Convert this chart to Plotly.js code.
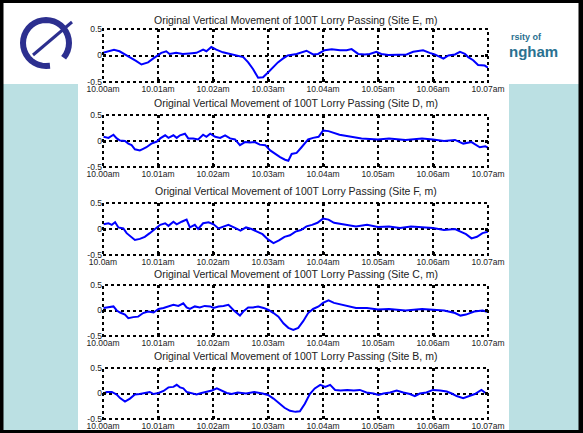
<!DOCTYPE html>
<html>
<head>
<meta charset="utf-8">
<script src="https://cdn.plot.ly/plotly-3.0.1.min.js"></script>
<style>
  html, body { margin: 0; padding: 0; background: #ffffff; }
  #chart { width: 583px; height: 433px; }
</style>
</head>
<body>
<div id="chart"></div>
<script>
// Vertical movement (m) recorded at five sites while a 100T lorry passes, 10.00am-10.07am
const tickVals = [0, 1, 2, 3, 4, 5, 6, 7];
const tickLabels = ["10.00am", "10.01am", "10.02am", "10.03am", "10.04am", "10.05am", "10.06am", "10.07am"];
const tickLabelsF = ["10.0am", "10.01am", "10.02am", "10.03am", "10.04am", "10.05am", "10.06am", "10.07am"];
const yTickVals = [-0.5, 0, 0.5];
const yTickLabels = ["-0.5", "0", "0.5"];

const sites = ["E", "D", "F", "C", "B"];

// time in minutes after 10.00am
const tE = [0,0.1,0.2,0.3,0.4,0.5,0.6,0.7,0.82,0.91,1.0,1.06,1.15,1.21,1.33,1.45,1.57,1.7,1.82,1.88,1.97,2.06,2.18,2.3,2.42,2.55,2.64,2.73,2.82,2.91,3.0,3.09,3.18,3.27,3.36,3.52,3.58,3.7,3.82,3.91,4.03,4.16,4.31,4.43,4.52,4.64,4.76,4.85,4.97,5.06,5.19,5.34,5.52,5.64,5.82,5.94,6.03,6.19,6.28,6.4,6.49,6.58,6.64,6.73,6.82,6.94,7.0];
const vE = [0.05,0.08,0.11,0.08,0.02,-0.03,-0.1,-0.17,-0.13,-0.06,0.01,0.05,0.08,0.03,0.05,0.03,0.04,0.05,0.11,0.08,0.16,0.11,0.06,0.03,0.01,-0.03,-0.13,-0.26,-0.42,-0.41,-0.32,-0.22,-0.13,-0.06,0.0,0.03,0.05,0.09,0.02,0.03,0.10,0.12,0.10,0.10,0.12,0.03,0.02,0.03,0.07,0.03,0.01,0.01,0.02,0.07,0.10,0.05,0.02,-0.06,0.0,0.02,0.07,0.03,-0.03,-0.09,-0.18,-0.19,-0.23];

const tD = [0.01,0.10,0.19,0.25,0.31,0.40,0.46,0.52,0.58,0.67,0.73,0.79,0.88,0.98,1.04,1.13,1.19,1.28,1.34,1.40,1.49,1.55,1.64,1.73,1.82,1.88,1.95,2.04,2.13,2.22,2.31,2.40,2.49,2.58,2.67,2.76,2.85,2.95,3.04,3.13,3.22,3.31,3.37,3.43,3.52,3.61,3.67,3.73,3.82,3.92,4.0,4.1,4.3,4.5,4.7,5.0,5.2,5.5,5.8,6.0,6.2,6.4,6.55,6.7,6.85,6.95,7.0];
const vD = [0.08,0.06,0.12,0.05,0.01,0.0,-0.05,-0.08,-0.16,-0.18,-0.15,-0.12,-0.05,-0.01,0.05,0.11,0.06,0.11,0.06,0.11,0.14,0.05,0.05,0.03,0.12,0.08,0.14,0.08,0.06,0.11,0.05,0.03,-0.08,-0.02,-0.03,-0.02,-0.07,-0.08,-0.18,-0.25,-0.31,-0.36,-0.38,-0.25,-0.23,-0.12,-0.05,0.03,0.06,0.08,0.2,0.19,0.12,0.08,0.05,0.03,0.05,0.02,0.05,0.03,0.0,0.02,-0.05,-0.02,-0.12,-0.1,-0.13];

const tF = [0.01,0.10,0.16,0.22,0.28,0.37,0.43,0.52,0.58,0.67,0.76,0.85,0.95,1.04,1.13,1.19,1.28,1.34,1.43,1.52,1.58,1.67,1.73,1.82,1.92,2.01,2.10,2.19,2.28,2.4,2.5,2.6,2.7,2.8,2.9,3.0,3.1,3.2,3.3,3.4,3.5,3.6,3.7,3.8,3.9,4.0,4.1,4.2,4.4,4.6,4.8,5.0,5.2,5.4,5.6,5.8,6.0,6.2,6.4,6.5,6.6,6.7,6.8,6.9,7.0];
const vF = [0.09,0.11,0.08,0.13,0.03,0.01,-0.08,-0.15,-0.21,-0.19,-0.15,-0.08,0.01,0.08,0.11,0.06,0.14,0.09,0.14,0.18,0.03,0.08,0.0,0.11,0.13,0.09,0.01,0.04,0.08,0.02,-0.03,0.03,0.0,-0.05,-0.1,-0.2,-0.27,-0.22,-0.15,-0.12,-0.05,-0.02,0.05,0.08,0.12,0.2,0.18,0.12,0.08,0.05,0.08,0.04,0.05,0.02,0.05,0.03,0.02,-0.02,0.0,-0.05,-0.1,-0.18,-0.15,-0.08,-0.05];

const tC = [0.01,0.1,0.19,0.25,0.31,0.40,0.46,0.55,0.64,0.73,0.82,0.92,1.01,1.10,1.19,1.28,1.37,1.46,1.52,1.58,1.67,1.76,1.85,1.95,2.01,2.10,2.19,2.28,2.37,2.49,2.55,2.64,2.73,2.82,2.92,3.01,3.10,3.19,3.28,3.37,3.46,3.55,3.64,3.73,3.82,3.92,4.0,4.1,4.2,4.4,4.6,4.8,5.0,5.2,5.5,5.8,6.0,6.2,6.4,6.5,6.6,6.75,6.9,7.0];
const vC = [0.05,0.06,0.08,0.0,-0.04,-0.08,-0.15,-0.13,-0.12,-0.05,-0.02,-0.04,0.03,0.05,0.08,0.11,0.09,0.14,0.06,0.03,0.08,0.06,0.09,0.08,0.05,0.08,0.09,0.11,0.01,-0.1,-0.02,0.06,0.06,0.08,0.05,0.01,-0.05,-0.12,-0.25,-0.34,-0.38,-0.34,-0.21,-0.05,0.03,0.08,0.15,0.2,0.15,0.1,0.05,0.05,0.02,0.03,0.0,0.03,0.02,0.0,-0.05,-0.1,-0.08,-0.02,0.0,-0.03];

const tB = [0.01,0.07,0.16,0.25,0.31,0.40,0.49,0.58,0.67,0.76,0.85,0.92,1.01,1.10,1.19,1.28,1.34,1.40,1.46,1.52,1.61,1.70,1.79,1.88,1.98,2.07,2.16,2.25,2.34,2.45,2.6,2.75,2.9,3.0,3.1,3.2,3.3,3.4,3.5,3.58,3.67,3.76,3.85,3.95,4.04,4.13,4.22,4.32,4.44,4.56,4.67,4.79,4.92,5.01,5.1,5.22,5.34,5.46,5.58,5.67,5.76,5.88,6.0,6.13,6.25,6.34,6.43,6.55,6.67,6.76,6.88,6.97];
const vB = [0.0,0.03,0.03,-0.02,-0.09,-0.16,-0.1,-0.02,-0.01,0.01,0.03,-0.01,0.01,0.05,0.12,0.13,0.17,0.12,0.10,0.03,0.01,-0.02,0.01,0.03,0.06,0.10,0.06,0.01,-0.01,0.02,0.0,0.03,0.0,-0.03,-0.1,-0.2,-0.28,-0.34,-0.36,-0.35,-0.2,-0.01,0.1,0.17,0.13,0.17,0.07,0.06,0.07,0.06,0.07,0.02,0.0,-0.03,0.0,0.02,0.06,0.02,-0.01,-0.05,0.0,0.02,0.07,0.06,0.04,0.0,-0.05,-0.09,-0.05,-0.01,0.07,0.0];

const series = [[tE, vE], [tD, vD], [tF, vF], [tC, vC], [tB, vB]];

// page geometry in pixels
const W = 583, H = 433;
const plotLeft = 103, plotRight = 488;
const rowTop = [29, 115, 203, 285, 368];
const rowBottom = [82, 167, 255, 336, 419];
const titleY = [20, 103, 191, 274, 356];

const fx = x => x / W;
const fy = y => 1 - y / H;

const FONT = "Liberation Sans, Arial, Helvetica, sans-serif";
const traces = [];
const layout = {
  width: W, height: H,
  margin: {l: 0, r: 0, t: 0, b: 0},
  paper_bgcolor: "#ffffff",
  plot_bgcolor: "rgba(0,0,0,0)",
  showlegend: false,
  font: {family: FONT, color: "#222222"},
  shapes: [],
  annotations: []
};

// slide background: light blue band, white chart panel, black frame
layout.shapes.push(
  {type: "rect", xref: "paper", yref: "paper", layer: "below",
   x0: fx(3), x1: fx(579), y0: fy(84), y1: fy(431), fillcolor: "#bbe0e3", line: {width: 0}},
  {type: "rect", xref: "paper", yref: "paper", layer: "below",
   x0: fx(78), x1: fx(509), y0: fy(0), y1: fy(431), fillcolor: "#ffffff", line: {width: 0}},
  {type: "rect", xref: "paper", yref: "paper", layer: "below",
   x0: fx(0), x1: fx(3.5), y0: fy(0), y1: fy(433), fillcolor: "#000000", line: {width: 0}},
  {type: "rect", xref: "paper", yref: "paper", layer: "below",
   x0: fx(578.5), x1: fx(583), y0: fy(0), y1: fy(433), fillcolor: "#000000", line: {width: 0}},
  {type: "rect", xref: "paper", yref: "paper", layer: "below",
   x0: fx(0), x1: fx(583), y0: fy(0), y1: fy(3), fillcolor: "#000000", line: {width: 0}},
  {type: "rect", xref: "paper", yref: "paper", layer: "below",
   x0: fx(0), x1: fx(583), y0: fy(430), y1: fy(433), fillcolor: "#000000", line: {width: 0}}
);

// crest: open ring with a diagonal stroke
const ringPath = (() => {
  const cx = 46, cy = 43, rx = 23, ry = 23;
  const pts = [];
  // arc running counter-clockwise from upper right round to the top
  for (let a = -40; a <= 280; a += 10) {
    const r = (a * Math.PI) / 180;
    pts.push([cx + rx * Math.cos(r), cy - ry * Math.sin(r)]);
  }
  return "M" + pts.map(p => fx(p[0]).toFixed(5) + "," + fy(p[1]).toFixed(5)).join(" L");
})();
layout.shapes.push(
  {type: "path", xref: "paper", yref: "paper", layer: "below",
   path: ringPath, line: {color: "#2c2f8f", width: 6}},
  {type: "line", xref: "paper", yref: "paper", layer: "below",
   x0: fx(33), y0: fy(55), x1: fx(72), y1: fy(22), line: {color: "#2c2f8f", width: 3}}
);
layout.annotations.push(
  {xref: "paper", yref: "paper", x: fx(509), y: fy(37), xanchor: "left", yanchor: "middle",
   text: "<b>rsity of</b>", showarrow: false, font: {family: FONT, size: 9, color: "#2a6f90"}},
  {xref: "paper", yref: "paper", x: fx(507), y: fy(52), xanchor: "left", yanchor: "middle",
   text: "<b>ngham</b>", showarrow: false, font: {family: FONT, size: 15, color: "#2a7190"}}
);

series.forEach(([t, v], i) => {
  const n = i + 1;
  const xa = n === 1 ? "xaxis" : "xaxis" + n;
  const ya = n === 1 ? "yaxis" : "yaxis" + n;
  const xr = n === 1 ? "x" : "x" + n;
  const yr = n === 1 ? "y" : "y" + n;

  traces.push({
    type: "scatter", mode: "lines", x: t, y: v, xaxis: xr, yaxis: yr,
    line: {color: "#0000ff", width: 2}, hoverinfo: "skip"
  });

  layout[xa] = {
    domain: [fx(plotLeft), fx(plotRight)], anchor: yr,
    range: [0, 7], tickvals: tickVals, ticktext: i === 2 ? tickLabelsF : tickLabels,
    showgrid: true, gridcolor: "#000000", griddash: "dot", gridwidth: 2,
    zeroline: false, showline: false,
    ticks: "inside", ticklen: 3, tickwidth: 3, tickcolor: "#000000", mirror: "ticks",
    tickfont: {family: FONT, size: 8.5, color: "#222222"}, fixedrange: true
  };
  layout[ya] = {
    domain: [fy(rowBottom[i]), fy(rowTop[i])], anchor: xr,
    range: [-0.5, 0.5], tickvals: yTickVals, ticktext: yTickLabels,
    showgrid: true, gridcolor: "#000000", griddash: "dot", gridwidth: 2,
    zeroline: false, showline: false,
    ticks: "inside", ticklen: 3, tickwidth: 3, tickcolor: "#000000", mirror: "ticks",
    tickfont: {family: FONT, size: 8.5, color: "#222222"}, fixedrange: true
  };

  // dotted axes box
  layout.shapes.push({
    type: "rect", xref: xr + " domain", yref: yr + " domain",
    x0: 0, x1: 1, y0: 0, y1: 1, line: {color: "#000000", width: 2, dash: "dot"}
  });

  layout.annotations.push({
    xref: "paper", yref: "paper", x: fx((plotLeft + plotRight) / 2), y: fy(titleY[i]),
    xanchor: "center", yanchor: "middle", showarrow: false,
    text: "Original Vertical Movement of 100T Lorry Passing (Site " + sites[i] + ", m)",
    font: {family: FONT, size: 10.5, color: "#222222"}
  });
});

Plotly.newPlot("chart", traces, layout, {staticPlot: true, displayModeBar: false});
</script>
</body>
</html>
